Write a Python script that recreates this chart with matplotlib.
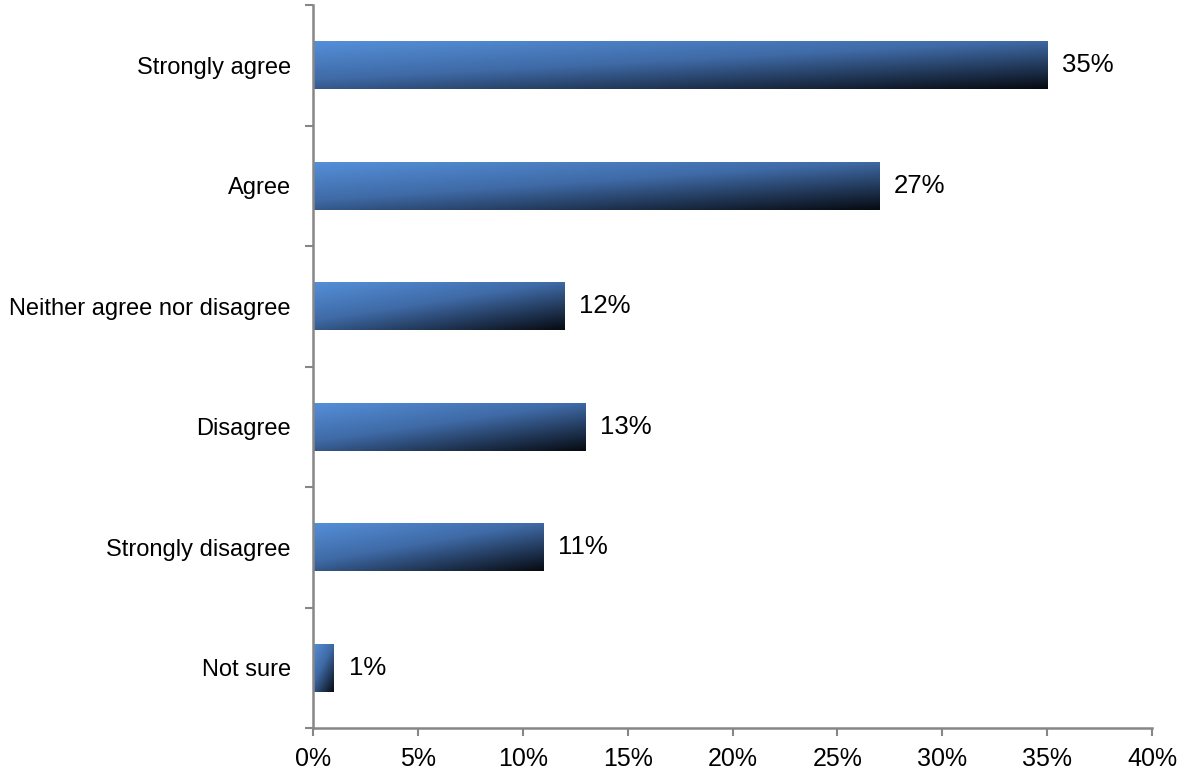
import numpy as np
import matplotlib.pyplot as plt
from matplotlib.colors import LinearSegmentedColormap
from matplotlib.patches import Rectangle

categories = ["Strongly agree", "Agree", "Neither agree nor disagree",
              "Disagree", "Strongly disagree", "Not sure"]
values = [35, 27, 12, 13, 11, 1]
xticks = [0, 5, 10, 15, 20, 25, 30, 35, 40]

plt.rcParams["font.family"] = ["Liberation Sans", "DejaVu Sans"]

cmap = LinearSegmentedColormap.from_list(
    "bar", [(0.0, "#5590da"), (0.45, "#3f6aa6"), (1.0, "#070b12")])

fig = plt.figure(figsize=(11.82, 7.79), dpi=100)
ax = fig.add_axes([313 / 1182, 1 - 728 / 779, (1152 - 313) / 1182, 723 / 779])

n = len(categories)
ypos = np.arange(n)
height = 0.4

# diagonal gradient, top-left light blue -> bottom-right near black
u = np.linspace(0, 1, 200)
v = np.linspace(0, 1, 60)
U, V = np.meshgrid(u, v)
grad = 0.45 * U + 0.55 * V

for y, val in zip(ypos, values):
    y0, y1 = y - height / 2, y + height / 2
    # axis is inverted, so extent top = y0
    im = ax.imshow(grad, cmap=cmap, vmin=0, vmax=1, aspect="auto",
                   extent=[0, val, y1, y0], interpolation="bilinear", zorder=2)
    clip = Rectangle((0, y0), val, height, transform=ax.transData,
                     facecolor="none", edgecolor="none")
    ax.add_patch(clip)
    im.set_clip_path(clip)
    ax.text(val + 0.7, y, f"{val}%", va="center", ha="left", fontsize=18.5)

ax.set_xlim(0, 40)
ax.set_ylim(n - 0.5, -0.5)
ax.set_xticks(xticks)
ax.set_xticklabels([f"{t}%" for t in xticks], fontsize=18)
ax.set_yticks(ypos)
ax.set_yticklabels(categories, fontsize=17)
ax.set_yticks(np.arange(n + 1) - 0.5, minor=True)

ax.tick_params(axis="y", which="major", length=0, pad=16)
ax.tick_params(axis="y", which="minor", length=6, width=1.5, color="#868686")
ax.tick_params(axis="x", length=6, width=1.5, color="#868686", pad=8)

for side in ["top", "right"]:
    ax.spines[side].set_visible(False)
for side in ["left", "bottom"]:
    ax.spines[side].set_color("#868686")
    ax.spines[side].set_linewidth(1.8)

fig.savefig("out.png", dpi=100)
